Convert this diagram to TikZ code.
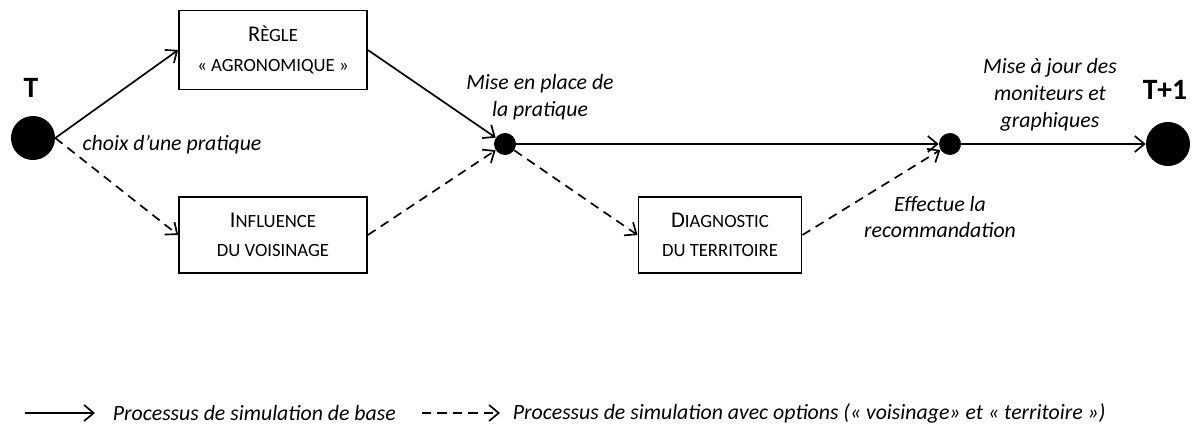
\documentclass[tikz,border=0pt]{standalone}
\usepackage{fontspec}
\setmainfont{Carlito}
\usetikzlibrary{arrows.meta}
\tikzset{
  etape/.style={
    rectangle,
    draw=black,
    line width=1.2pt,
    align=center,
    minimum height=1.9cm,
    inner sep=2pt,
    font=\fontsize{16}{21}\selectfont
  },
  grospoint/.style={circle, fill=black, minimum size=1.1cm, inner sep=0pt},
  petitpoint/.style={circle, fill=black, minimum size=0.55cm, inner sep=0pt},
  fleche/.style={-{Straight Barb[length=2.4mm,width=4mm]}, line width=1.2pt},
  flechepoint/.style={fleche, dash pattern=on 6.5pt off 4.5pt},
  etiquette/.style={font=\fontsize{15.5}{19}\selectfont\itshape, align=center},
  instant/.style={font=\fontsize{21}{24}\selectfont\bfseries}
}
\newcommand{\petitcap}[1]{{\fontsize{13.3}{21}\selectfont #1}}

\begin{document}
\begin{tikzpicture}[x=0.025cm, y=-0.025cm]
\useasboundingbox (0,0) rectangle (1193,427);

% instants et points
\node[grospoint] (t) at (33,138) {};
\node[instant] (tlab) at (31,88) {T};
\node[grospoint] (t1) at (1168,144) {};
\node[instant] (t1lab) at (1165,90) {T+1};
\node[petitpoint] (p1) at (505,144) {};
\node[petitpoint] (p2) at (950,144) {};

% etapes
\node[etape, minimum width=4.7cm, minimum height=1.98cm] (regle) at (273,50) {R\petitcap{ÈGLE}\\\petitcap{« AGRONOMIQUE »}};
\node[etape, minimum width=4.7cm] (voisin) at (273,235) {I\petitcap{NFLUENCE}\\\petitcap{DU VOISINAGE}};
\node[etape, minimum width=4.08cm] (diag) at (720,235) {D\petitcap{IAGNOSTIC}\\\petitcap{DU TERRITOIRE}};

% etiquettes
\node[etiquette] (choix) at (172,145) {choix d’une pratique};
\node[etiquette] (miseplace) at (540,97) {Mise en place de\\la pratique};
\node[etiquette] (misejour) at (1050,95) {Mise à jour des\\moniteurs et\\graphiques};
\node[etiquette] (effectue) at (940,217) {Effectue la\\recommandation};

% liens
\draw[fleche] (t.east) -- (regle.west);
\draw[flechepoint] (t.east) -- (voisin.west);
\draw[fleche] (regle.east) -- (p1);
\draw[flechepoint] (voisin.east) -- (p1);
\draw[fleche] (p1) -- (p2);
\draw[flechepoint] (p1) -- (diag.west);
\draw[flechepoint] (diag.east) -- (p2);
\draw[fleche] (p2) -- (t1);

% legende
\coordinate (la) at (25,413);
\coordinate (lb) at (95,413);
\coordinate (lc) at (422,413);
\coordinate (ld) at (500,413);
\draw[fleche] (la) -- (lb);
\node[etiquette, anchor=west] (leg1) at (108,413) {Processus de simulation de base};
\draw[flechepoint] (lc) -- (ld);
\node[etiquette, anchor=west] (leg2) at (508,413) {Processus de simulation avec options (« voisinage» et « territoire »)};
\end{tikzpicture}
\end{document}
